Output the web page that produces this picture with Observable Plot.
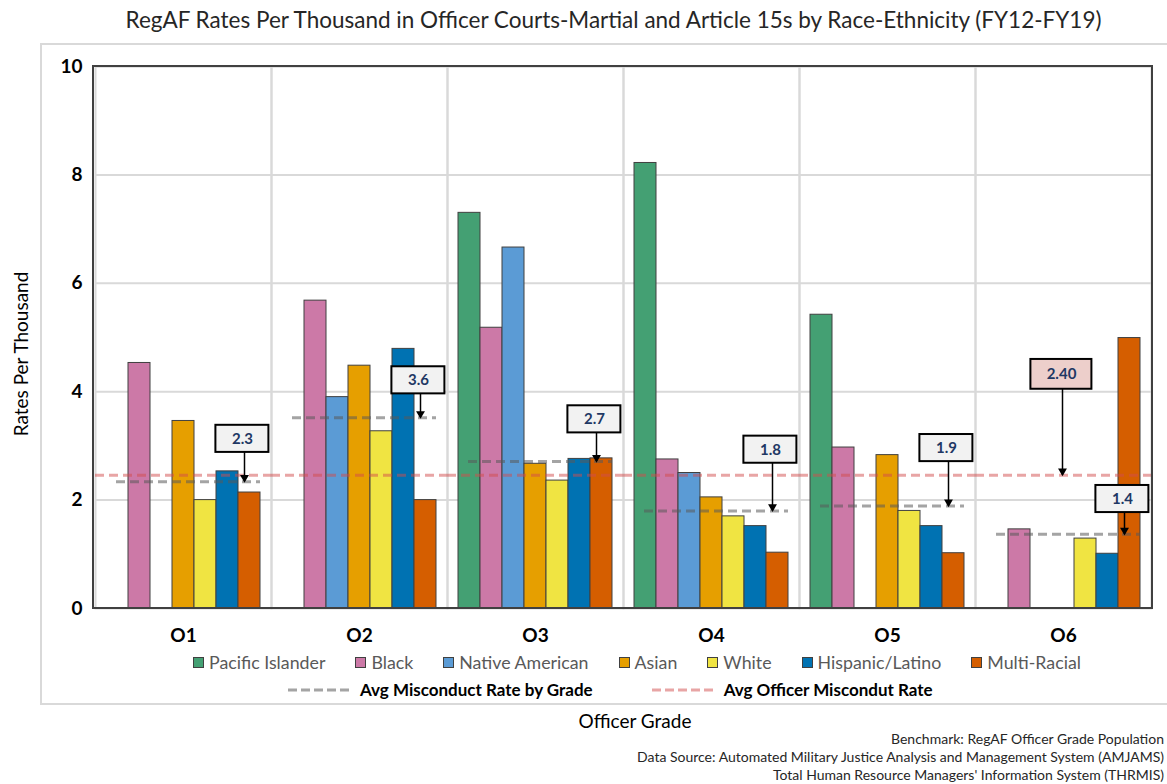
<!DOCTYPE html>
<html>
<head>
<meta charset="utf-8">
<script src="https://cdn.jsdelivr.net/npm/d3@7"></script>
<script src="https://cdn.jsdelivr.net/npm/@observablehq/plot@0.6"></script>
<style>
  body { margin: 0; background: #fff; font-family: Lato, "Open Sans", sans-serif; }
  #wrap { position: relative; width: 1167px; height: 784px; overflow: hidden; background: #fff; }
  #title { position: absolute; top: 6px; left: 0; width: 1227px; text-align: center; font-size: 22.5px; color: #262626; }
  #border { position: absolute; left: 40px; top: 43px; width: 1160px; height: 662px; border: 2px solid #d9d9d9; box-sizing: border-box; }
  #chart { position: absolute; left: 0; top: 56px; }
  #ylabel { position: absolute; left: 20px; top: 354px; transform: translate(-50%, -50%) rotate(-90deg); white-space: nowrap; font-size: 19px; color: #000; }
  .legend { position: absolute; display: flex; align-items: center; white-space: nowrap; }
  #leg1 { top: 651px; left: 193px; gap: 30px; font-size: 17.8px; color: #595959; }
  #leg2 { top: 679px; left: 288px; gap: 59px; font-size: 17px; font-weight: bold; color: #000; }
  .item { display: flex; align-items: center; }
  .sw { width: 9px; height: 9px; border: 1px solid #404040; margin-right: 5px; }
  #xlabel { position: absolute; top: 709px; left: 635px; transform: translateX(-50%); font-size: 19px; color: #000; }
  .foot { position: absolute; right: 3px; font-size: 14px; color: #262626; white-space: nowrap; }
</style>
</head>
<body>
<div id="wrap">
  <div id="border"></div>
  <div id="title">RegAF Rates Per Thousand in Officer Courts-Martial and Article 15s by Race-Ethnicity (FY12-FY19)</div>
  <div id="chart"></div>
  <div id="ylabel">Rates Per Thousand</div>
  <div id="leg1" class="legend"></div>
  <div id="leg2" class="legend"></div>
  <div id="xlabel">Officer Grade</div>
  <div class="foot" style="top:730px">Benchmark: RegAF Officer Grade Population</div>
  <div class="foot" style="top:748px">Data Source: Automated Military Justice Analysis and Management System (AMJAMS)</div>
  <div class="foot" style="top:766px">Total Human Resource Managers' Information System (THRMIS)</div>
</div>
<script>
// ---------- data ----------
const grades = ["O1", "O2", "O3", "O4", "O5", "O6"];
const races = ["Pacific Islander", "Black", "Native American", "Asian", "White", "Hispanic/Latino", "Multi-Racial"];
const raceColors = ["#44A073", "#CC79A7", "#5B9BD5", "#E69F00", "#F0E442", "#0072B2", "#D55E00"];

const pacificIslander = [0, 0, 7.30, 8.22, 5.42, 0];
const black           = [4.53, 5.68, 5.18, 2.75, 2.97, 1.46];
const nativeAmerican  = [0, 3.90, 6.66, 2.50, 0, 0];
const asian           = [3.46, 4.48, 2.67, 2.05, 2.83, 0];
const white           = [2.00, 3.27, 2.36, 1.70, 1.80, 1.29];
const hispanicLatino  = [2.53, 4.79, 2.76, 1.52, 1.52, 1.01];
const multiRacial     = [2.14, 2.00, 2.77, 1.03, 1.02, 4.99];

const gradeAvg       = [2.34, 3.52, 2.71, 1.80, 1.89, 1.37];
const gradeAvgLabels = ["2.3", "3.6", "2.7", "1.8", "1.9", "1.4"];
const gradeCalloutAt = [3.13, 4.21, 3.49, 2.93, 2.96, 2.02];

const officerAvg = 2.46;
const officerAvgLabel = "2.40";
const officerCalloutAt = 4.32;
const officerCalloutGrade = "O6";

const yTicks = [0, 2, 4, 6, 8, 10];
const legendLines = ["Avg Misconduct Rate by Grade", "Avg Officer Miscondut Rate"];

// ---------- build tables ----------
const series = [pacificIslander, black, nativeAmerican, asian, white, hispanicLatino, multiRacial];
const bars = [];
races.forEach((r, ri) => grades.forEach((g, gi) => {
  const v = series[ri][gi];
  if (v > 0) bars.push({grade: g, race: r, value: v});
}));
const avgs = grades.map((g, i) => ({grade: g, avg: gradeAvg[i], label: gradeAvgLabels[i], at: gradeCalloutAt[i]}));
const officer = [{grade: officerCalloutGrade, avg: officerAvg, label: officerAvgLabel, at: officerCalloutAt}];

const H = 0.25;   // callout half-height (data units)
const HR = 0.275;
const lastRace = () => races[6];
const midRace = () => races[3];
const grayLine = "#595959", redLine = "#D24B4B";

const plot = Plot.plot({
  width: 1167, height: 592,
  marginTop: 10, marginBottom: 40, marginLeft: 93, marginRight: 15,
  style: {fontFamily: "Lato, 'Open Sans', sans-serif", background: "transparent", color: "#000", overflow: "visible"},
  fx: {domain: grades, padding: 0, label: null, axis: null},
  x: {domain: races, paddingInner: 0, paddingOuter: 0.33, axis: null},
  y: {domain: [0, 10], axis: null},
  color: {domain: races, range: raceColors},
  marks: [
    Plot.gridY(yTicks.filter(d => d > 0), {stroke: "#d9d9d9", strokeOpacity: 1, strokeWidth: 2}),
    Plot.frame({stroke: "#d9d9d9", strokeWidth: 2}),
    Plot.axisY(yTicks, {tickSize: 0, tickPadding: 13, fontSize: 19, fontWeight: "bold", label: null, tickFormat: d => String(d)}),
    Plot.axisFx({anchor: "bottom", tickSize: 0, tickPadding: 20, fontSize: 19, fontWeight: "bold", label: null}),
    Plot.barY(bars, {fx: "grade", x: "race", y: "value", fill: "race", stroke: "#404040", strokeWidth: 1}),
    Plot.ruleY([officerAvg], {stroke: redLine, strokeOpacity: 0.5, strokeWidth: 3, strokeDasharray: "9,5"}),
    Plot.ruleY(avgs, {fx: "grade", y: "avg", x1: () => races[0], x2: lastRace, insetLeft: 10,
      stroke: grayLine, strokeOpacity: 0.55, strokeWidth: 3, strokeDasharray: "9,5"}),
    // grade callouts
    Plot.ruleX(avgs, {fx: "grade", x: lastRace, y1: d => d.at - H, y2: d => d.avg, dx: -5, stroke: "#000", strokeWidth: 1.5}),
    Plot.dot(avgs, {fx: "grade", x: lastRace, y: "avg", dx: -5, dy: -4, symbol: "triangle", r: 3.3, fill: "#000", stroke: null, rotate: 180}),
    Plot.barY(avgs, {fx: "grade", x: lastRace, y1: d => d.at - H, y2: d => d.at + H,
      insetLeft: -22.6, insetRight: -8.4, fill: "#F2F2F2", stroke: "#000", strokeWidth: 2}),
    Plot.text(avgs, {fx: "grade", x: lastRace, y: "at", text: "label", dx: -7, fill: "#1F3864", fontWeight: "bold", fontSize: 15}),
    // overall callout
    Plot.ruleX(officer, {fx: "grade", x: midRace, y1: d => d.at - HR, y2: d => d.avg, dx: -1, stroke: "#000", strokeWidth: 1.5}),
    Plot.dot(officer, {fx: "grade", x: midRace, y: "avg", dx: -1, dy: -4, symbol: "triangle", r: 3.3, fill: "#000", stroke: null, rotate: 180}),
    Plot.barY(officer, {fx: "grade", x: midRace, y1: d => d.at - HR, y2: d => d.at + HR,
      insetLeft: -21.6, insetRight: -17.4, fill: "#EDCFCB", stroke: "#000", strokeWidth: 2}),
    Plot.text(officer, {fx: "grade", x: midRace, y: "at", text: "label", dx: -2, fill: "#1F3864", fontWeight: "bold", fontSize: 15})
  ]
});
document.getElementById("chart").appendChild(plot);

// outer dark plot frame from the library's scales
const fxR = plot.scale("fx").range, yR = plot.scale("y").range;
d3.select(plot).append("rect")
  .attr("x", Math.min(...fxR)).attr("y", Math.min(...yR))
  .attr("width", Math.abs(fxR[1] - fxR[0])).attr("height", Math.abs(yR[1] - yR[0]))
  .attr("fill", "none").attr("stroke", "#404040").attr("stroke-width", 2);

// ---------- legends ----------
const leg1 = d3.select("#leg1");
races.forEach((r, i) => {
  const it = leg1.append("div").attr("class", "item");
  it.append("div").attr("class", "sw").style("background", raceColors[i]);
  it.append("span").text(r);
});
const leg2 = d3.select("#leg2");
[[grayLine, 0.55], [redLine, 0.5]].forEach(([c, o], i) => {
  const it = leg2.append("div").attr("class", "item");
  const s = it.append("svg").attr("width", 62).attr("height", 6).style("margin-right", "10px");
  s.append("line").attr("x1", 0).attr("x2", 62).attr("y1", 3).attr("y2", 3)
    .attr("stroke", c).attr("stroke-opacity", o).attr("stroke-width", 3).attr("stroke-dasharray", "9,4");
  it.append("span").text(legendLines[i]);
});
</script>
</body>
</html>
